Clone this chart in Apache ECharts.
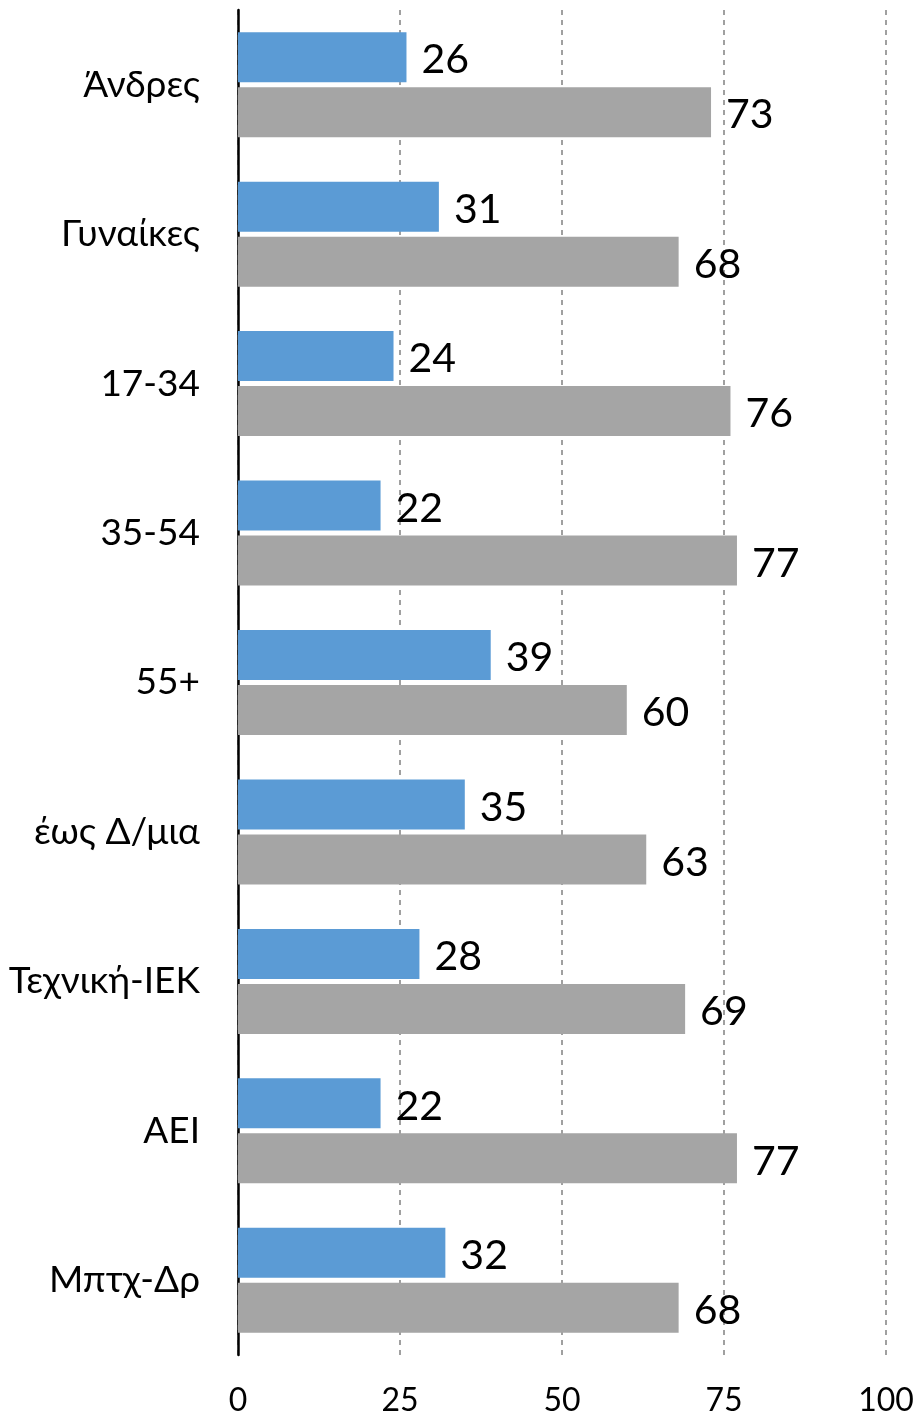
<!DOCTYPE html>
<html lang="el">
<head>
    <meta charset="UTF-8">
    <title>bar-chart</title>
    <script src="https://cdn.jsdelivr.net/npm/echarts@6/dist/echarts.min.js"></script>
    <style>
        html, body { margin: 0; padding: 0; background: #fff; }
        #chart { width: 919px; height: 1417px; }
    </style>
</head>
<body>
    <div id="chart"></div>
    <script>
        // data
        var categories = ["Άνδρες", "Γυναίκες", "17-34", "35-54", "55+", "έως Δ/μια", "Τεχνική-ΙΕΚ", "ΑΕΙ", "Μπτχ-Δρ"]
        var blueValues = [26, 31, 24, 22, 39, 35, 28, 22, 32]
        var grayValues = [73, 68, 76, 77, 60, 63, 69, 77, 68]

        var font = "Lato, 'Open Sans', sans-serif"

        var chart = echarts.init(document.getElementById("chart"))

        var labelStyle = {
            show: true,
            position: "right",
            distance: 15,
            offset: [0, 3],
            color: "#000",
            fontSize: 41,
            fontFamily: font
        }

        chart.setOption({
            animation: false,
            grid: { left: 238, right: 33, top: 10, bottom: 62 },
            xAxis: {
                type: "value",
                min: 0,
                max: 100,
                interval: 25,
                axisLine: { show: false },
                axisTick: { show: false },
                axisLabel: { color: "#000", fontSize: 32, fontFamily: font, margin: 30 },
                splitLine: {
                    show: true,
                    lineStyle: { color: "#a0a0a0", width: 2, type: [5, 5] }
                }
            },
            yAxis: {
                type: "category",
                data: categories,
                inverse: true,
                axisLine: { show: true, lineStyle: { color: "#000", width: 2.5 } },
                axisTick: { show: false },
                axisLabel: { color: "#000", fontSize: 37, fontFamily: font, margin: 38 }
            },
            series: [
                {
                    type: "bar",
                    data: blueValues,
                    barWidth: 50,
                    barGap: "10%",
                    itemStyle: { color: "#5b9bd5" },
                    label: labelStyle
                },
                {
                    type: "bar",
                    data: grayValues,
                    barWidth: 50,
                    itemStyle: { color: "#a5a5a5" },
                    label: labelStyle
                }
            ]
        })
    </script>
</body>
</html>
